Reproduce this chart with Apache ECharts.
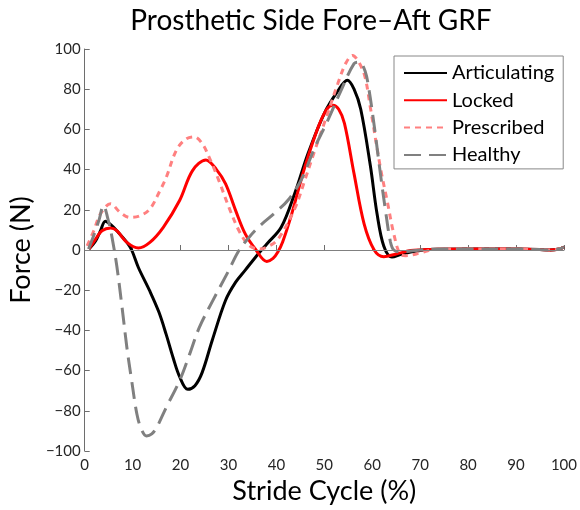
<!DOCTYPE html>
<html>
<head>
<meta charset="utf-8">
<script src="https://cdn.jsdelivr.net/npm/echarts@6/dist/echarts.min.js"></script>
<style>
    html, body { margin: 0; padding: 0; background: #fff; }
    #chart { width: 580px; height: 510px; }
</style>
</head>
<body>
<div id="chart"></div>
<script>
    // 曲线数据 [步态周期 %, 力 N]
    var articulating = [
        [0.9, 0.5], [2.3, 4.6], [3.3, 9.6], [4.3, 14.3], [5.5, 12.5], [6.7, 9.6], [8.8, 3.8], [9.8, 0],
        [11.2, -8.7], [13.6, -20.5], [15.5, -31], [17, -42], [18.5, -54], [19.8, -63], [21.5, -69.3],
        [23, -67.5], [24.5, -61], [26.6, -45], [29.4, -25], [31.5, -16], [33.5, -10], [35.6, -3.7],
        [38, 3], [41, 11.3], [43.8, 28], [46.6, 48], [50, 68], [52.8, 79], [54.8, 84.4], [56.2, 80],
        [57.6, 70], [59.6, 42], [61, 18], [62.4, 2], [64.1, -3.5], [66, -2.2], [68, -1], [72, 0.3],
        [80, 0.5], [90, 0.5], [95, 0.2], [97, 0], [99, 0.5], [100, 1.5]
    ];
    var locked = [
        [0.9, 0.5], [2.3, 5.5], [3.6, 9.6], [5.4, 11], [6.7, 9.6], [8.8, 3.8], [11.2, 1], [13.6, 3.8],
        [16.4, 11.3], [19.8, 24.6], [22.5, 39.5], [25.3, 44.8], [27.5, 40], [29.4, 32.9], [31.5, 19.6],
        [33.5, 8], [35.6, 0.5], [38, -5.7], [39.3, -4.2], [40.3, -1], [41.3, 4], [43.2, 18], [45.9, 41],
        [48.7, 61], [50.5, 70], [51.8, 72], [53, 70], [54.2, 63], [56.2, 38], [58.3, 13], [60.4, 0],
        [62.4, -3.3], [65, -2], [68, -0.3], [72, 0.3], [80, 0.5], [90, 0.5], [95, 0.2], [97, 0], [99, 0.5],
        [100, 1.5]
    ];
    var prescribed = [
        [0.5, 2], [1.9, 9.6], [3.3, 18], [5.4, 23], [7.4, 18.7], [9.5, 16.2], [11.5, 17], [13.6, 20.4],
        [15.7, 29.5], [17, 36], [19.1, 49.5], [21, 55], [22.8, 56.3], [24.5, 53], [26, 46], [28, 34.5],
        [30.1, 21.2], [32.2, 9.6], [34.2, 2.5], [36.3, 0.5], [38.5, 2], [40.4, 5.5], [43.9, 21], [45.9, 34.5],
        [48, 49.5], [50.7, 68], [52.8, 82.7], [54.5, 93], [55.9, 96.8], [57.3, 93], [58.5, 86], [59.6, 71],
        [61.7, 41], [63.1, 24.6], [64.5, 8], [65.8, -2], [67, -2.8], [70, -1.5], [73, 0.3], [80, 0.5],
        [90, 0.5], [95, 0.2], [97, 0], [99, 0.5], [100, 1.5]
    ];
    var healthy = [
        [0.8, 0.5], [2, 8], [3, 15], [3.9, 22], [5, 14], [5.7, 6.3], [6.7, -8], [7.8, -28.6], [8.8, -48.5],
        [9.8, -65], [10.9, -81.7], [11.8, -89], [12.9, -92.5], [14, -91.5], [15, -88.4], [17, -78.4],
        [19.8, -65], [21.9, -51.8], [23.9, -38.6], [26.7, -25.3], [30.1, -10], [32, -1], [34, 5.5],
        [36.3, 11.5], [39.7, 18.5], [42.5, 25], [45.2, 35], [48, 51], [50.7, 64.4], [53.5, 79.4],
        [56.2, 92.7], [57.3, 93.5], [58.5, 89], [59.3, 80], [60.4, 62], [61.7, 38], [62.8, 19], [63.8, 4],
        [64.5, 0], [66, -1], [68, -0.5], [72, 0.3], [80, 0.5], [90, 0.5], [95, 0.2], [97, 0], [99, 0.5],
        [100, 1.5]
    ];
    var seriesNames = ['Articulating', 'Locked', 'Prescribed', 'Healthy'];

    var font = 'Lato';
    var axisColor = '#6e6e6e';

    function minus(v) {
        return String(v).replace('-', '\u2212');
    }

    function lineSeries(name, data, color, type) {
        return {
            name: name,
            type: 'line',
            data: data,
            symbol: 'none',
            smooth: 0.35,
            lineStyle: { color: color, width: 3, type: type },
            itemStyle: { color: color }
        };
    }

    var myChart = echarts.init(document.getElementById('chart'));
    var series = [
        lineSeries(seriesNames[0], articulating, '#000000', 'solid'),
        lineSeries(seriesNames[1], locked, '#ff0000', 'solid'),
        lineSeries(seriesNames[2], prescribed, '#ff8080', [6, 5]),
        lineSeries(seriesNames[3], healthy, '#808080', [17, 8])
    ];
    // 零线
    series[0].markLine = {
        silent: true,
        symbol: 'none',
        label: { show: false },
        lineStyle: { color: '#808080', width: 1, type: 'solid' },
        data: [{ yAxis: 0 }]
    };

    var option = {
        animation: false,
        title: {
            text: 'Prosthetic Side Fore\u2013Aft GRF',
            left: 306,
            textAlign: 'center',
            top: 2,
            textStyle: { fontFamily: font, fontSize: 28, fontWeight: 'normal', color: '#000' }
        },
        legend: {
            orient: 'vertical',
            left: 394,
            top: 56,
            padding: [7, 9, 4, 9],
            itemWidth: 43,
            itemHeight: 20,
            itemGap: 7.3,
            itemTextGap: 6,
            borderColor: '#888',
            borderWidth: 1,
            backgroundColor: '#fff',
            itemStyle: { opacity: 0 },
            data: seriesNames,
            textStyle: { fontFamily: font, fontSize: 20, color: '#000', lineHeight: 20 }
        },
        grid: { left: 84, right: 12, top: 49, bottom: 59 },
        xAxis: {
            type: 'value',
            min: 0,
            max: 100,
            interval: 10,
            name: 'Stride Cycle (%)',
            nameLocation: 'middle',
            nameGap: 27,
            nameTextStyle: { fontFamily: font, fontSize: 27, color: '#000' },
            axisLine: { lineStyle: { color: axisColor } },
            axisTick: { inside: true, length: 5, lineStyle: { color: axisColor } },
            axisLabel: { fontFamily: font, fontSize: 15, color: '#262626', margin: 7 },
            splitLine: { show: false }
        },
        yAxis: {
            type: 'value',
            min: -100,
            max: 100,
            interval: 20,
            name: 'Force (N)',
            nameLocation: 'middle',
            nameGap: 44,
            nameTextStyle: { fontFamily: font, fontSize: 27, color: '#000' },
            axisLine: { lineStyle: { color: axisColor } },
            axisTick: { inside: true, length: 5, lineStyle: { color: axisColor } },
            axisLabel: { fontFamily: font, fontSize: 15, color: '#262626', margin: 4, formatter: minus },
            splitLine: { show: false }
        },
        series: series
    };
    myChart.setOption(option);
</script>
</body>
</html>
